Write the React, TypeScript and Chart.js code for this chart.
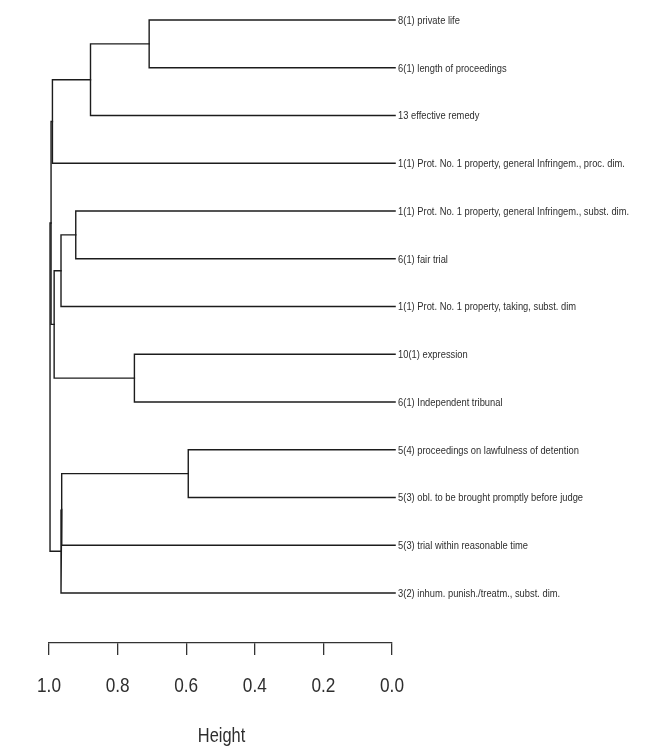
import React, { useEffect, useRef } from "react";
import { Chart, registerables } from "chart.js";

Chart.register(...registerables);

// Leaves, top to bottom
const leafLabels: string[] = [
  "8(1) private life",
  "6(1) length of proceedings",
  "13 effective remedy",
  "1(1) Prot. No. 1 property, general Infringem., proc. dim.",
  "1(1) Prot. No. 1 property, general Infringem., subst. dim.",
  "6(1) fair trial",
  "1(1) Prot. No. 1 property, taking, subst. dim",
  "10(1) expression",
  "6(1) Independent tribunal",
  "5(4) proceedings on lawfulness of detention",
  "5(3) obl. to be brought promptly before judge",
  "5(3) trial within reasonable time",
  "3(2) inhum. punish./treatm., subst. dim.",
];

// R-style merge table: negative = leaf (1-based), positive = earlier merge (1-based)
const mergeLeft: number[] = [-1, 1, 2, -5, 4, -8, 5, 3, -10, 9, 10, 8];
const mergeRight: number[] = [-2, -3, -4, -6, -7, -9, 6, 7, -11, -12, -13, 11];
const mergeHeight: number[] = [0.708, 0.879, 0.99, 0.922, 0.965, 0.751, 0.985, 0.994, 0.594, 0.963, 0.965, 0.997];

const xTicks: number[] = [0, 0.2, 0.4, 0.6, 0.8, 1.0];
const axisTitle = "Height";

const LEAF_END = -0.009;
const FONT = "'Liberation Sans', Arial, sans-serif";

function buildDatasets() {
  const nodeY: number[] = [];
  const pos = (c: number) =>
    c < 0 ? { y: -c - 1, h: LEAF_END } : { y: nodeY[c - 1], h: mergeHeight[c - 1] };
  const sets: any[] = [];
  for (let k = 0; k < mergeHeight.length; k++) {
    const L = pos(mergeLeft[k]);
    const R = pos(mergeRight[k]);
    const h = mergeHeight[k];
    nodeY.push((L.y + R.y) / 2);
    sets.push({
      data: [
        { x: L.h, y: L.y },
        { x: h, y: L.y },
        { x: h, y: R.y },
        { x: R.h, y: R.y },
      ],
      showLine: true,
      borderColor: "#1c1c1c",
      borderWidth: 1.4,
      pointRadius: 0,
      tension: 0,
      clip: false,
      borderCapStyle: "square",
    });
  }
  return sets;
}

function narrowText(ctx: any, text: string, x: number, y: number, size: number, sx: number, align: string) {
  ctx.save();
  ctx.font = `${size}px ${FONT}`;
  ctx.textBaseline = "alphabetic";
  ctx.textAlign = align;
  ctx.translate(x, y);
  ctx.scale(sx, 1);
  ctx.fillText(text, 0, 0);
  ctx.restore();
}

const textPlugin = {
  id: "dendroText",
  afterDraw(chart: any) {
    const ctx = chart.ctx;
    const xs = chart.scales.x;
    const ys = chart.scales.y;
    const area = chart.chartArea;
    ctx.save();
    ctx.fillStyle = "#2e2e2e";
    // leaf labels
    const x0 = xs.getPixelForValue(LEAF_END) + 3;
    leafLabels.forEach((lab, i) => {
      narrowText(ctx, lab, x0, ys.getPixelForValue(i) + 3.8, 10.5, 0.89, "left");
    });
    // tick labels
    xTicks.forEach((v) => {
      narrowText(ctx, v.toFixed(1), xs.getPixelForValue(v), area.bottom + 49, 20, 0.86, "center");
    });
    // axis title
    narrowText(ctx, axisTitle, (area.left + area.right) / 2 + 1, area.bottom + 99, 20, 0.82, "center");
    ctx.restore();
  },
};

export default function App() {
  const ref = useRef<HTMLCanvasElement | null>(null);
  useEffect(() => {
    if (!ref.current) return;
    const chart = new Chart(ref.current, {
      type: "scatter",
      data: { datasets: buildDatasets() },
      options: {
        animation: false,
        responsive: false,
        events: [],
        layout: { padding: { left: 49, right: 263, top: 10, bottom: 0 } },
        plugins: { legend: { display: false }, tooltip: { enabled: false } },
        scales: {
          x: {
            type: "linear",
            position: "bottom",
            min: 0,
            max: 1,
            reverse: true,
            afterBuildTicks: (scale: any) => {
              scale.ticks = xTicks.map((v) => ({ value: v }));
            },
            afterFit: (scale: any) => {
              scale.height = 105;
            },
            ticks: { display: false },
            grid: { drawOnChartArea: false, drawTicks: true, tickLength: 12, color: "#333", lineWidth: 1.3 },
            border: { display: true, color: "#333", width: 1.3 },
            title: { display: false },
          },
          y: {
            type: "linear",
            display: false,
            reverse: true,
            min: -0.2094,
            max: 13.047,
          },
        },
      },
      plugins: [textPlugin],
    } as any);
    return () => chart.destroy();
  }, []);
  return (
    <div style={{ position: "fixed", left: 0, top: 0, width: 655, height: 748, background: "#fff" }}>
      <canvas ref={ref} width={655} height={748} style={{ display: "block" }} />
    </div>
  );
}
